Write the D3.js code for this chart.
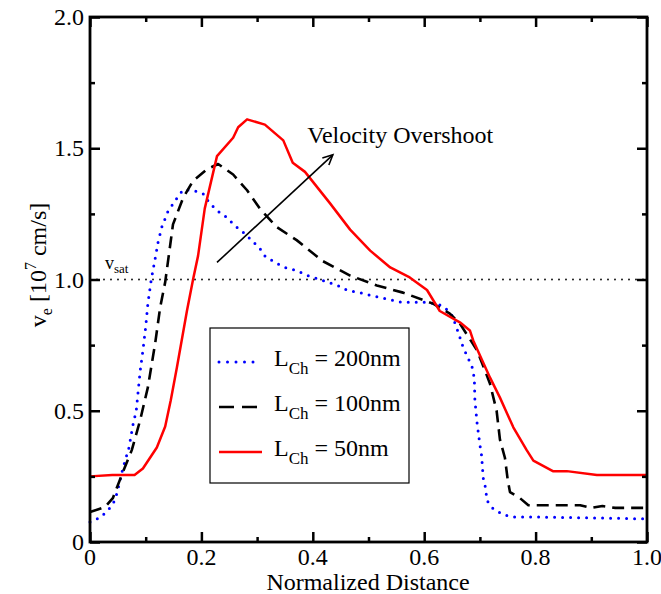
<!DOCTYPE html>
<html><head><meta charset="utf-8">
<script src="https://cdn.jsdelivr.net/npm/d3@7"></script>
<style>
html,body{margin:0;padding:0;background:#fff;}
text{font-family:"Liberation Serif","Times New Roman",serif;fill:#000;}
</style></head>
<body><svg id="c" width="661" height="594"></svg>
<script>
// ---- data ----
const series200 = [[0,0.076],[0.02,0.095],[0.036,0.13],[0.045,0.16],[0.05,0.2],[0.059,0.28],[0.07,0.36],[0.077,0.445],[0.083,0.5],[0.09,0.65],[0.095,0.73],[0.1,0.82],[0.104,0.91],[0.11,1.0],[0.117,1.08],[0.122,1.14],[0.129,1.2],[0.14,1.26],[0.156,1.31],[0.167,1.342],[0.185,1.34],[0.203,1.327],[0.215,1.29],[0.23,1.26],[0.246,1.236],[0.26,1.205],[0.275,1.18],[0.29,1.15],[0.305,1.118],[0.314,1.09],[0.332,1.065],[0.35,1.046],[0.371,1.034],[0.39,1.015],[0.407,1.004],[0.427,0.99],[0.445,0.977],[0.463,0.958],[0.485,0.95],[0.503,0.94],[0.56,0.913],[0.6,0.913],[0.623,0.908],[0.637,0.894],[0.65,0.863],[0.658,0.818],[0.664,0.78],[0.67,0.741],[0.679,0.70],[0.686,0.666],[0.69,0.624],[0.691,0.54],[0.695,0.452],[0.70,0.37],[0.703,0.33],[0.706,0.243],[0.711,0.198],[0.712,0.16],[0.723,0.129],[0.74,0.106],[0.758,0.095],[0.8,0.095],[0.9,0.092],[1.0,0.088]];
const series100 = [[0,0.114],[0.027,0.133],[0.041,0.167],[0.059,0.266],[0.075,0.35],[0.09,0.464],[0.104,0.59],[0.117,0.757],[0.126,0.894],[0.135,0.99],[0.149,1.21],[0.167,1.31],[0.185,1.376],[0.21,1.42],[0.23,1.44],[0.257,1.40],[0.282,1.34],[0.305,1.27],[0.335,1.2],[0.371,1.15],[0.418,1.07],[0.467,1.015],[0.515,0.977],[0.562,0.95],[0.616,0.908],[0.646,0.87],[0.664,0.832],[0.695,0.73],[0.718,0.604],[0.73,0.5],[0.736,0.39],[0.745,0.32],[0.75,0.236],[0.754,0.19],[0.772,0.167],[0.787,0.14],[0.88,0.14],[0.9,0.13],[0.92,0.137],[0.943,0.13],[1.0,0.13]];
const series50 = [[0,0.25],[0.04,0.255],[0.08,0.255],[0.095,0.28],[0.12,0.36],[0.135,0.44],[0.145,0.54],[0.156,0.665],[0.174,0.88],[0.185,1.0],[0.194,1.09],[0.206,1.27],[0.228,1.47],[0.257,1.54],[0.266,1.58],[0.282,1.61],[0.314,1.59],[0.347,1.53],[0.364,1.445],[0.386,1.41],[0.431,1.29],[0.467,1.19],[0.503,1.11],[0.539,1.046],[0.574,1.008],[0.605,0.96],[0.628,0.88],[0.664,0.837],[0.682,0.806],[0.688,0.768],[0.718,0.627],[0.736,0.55],[0.76,0.437],[0.784,0.35],[0.796,0.31],[0.831,0.27],[0.856,0.27],[0.91,0.255],[1.0,0.255]];
const legendLabels = ["200nm","100nm","50nm"];
const xTicks = [0,0.2,0.4,0.6,0.8,1.0];
const xTickLabels = ["0","0.2","0.4","0.6","0.8","1.0"];
const yTicks = [0,0.5,1.0,1.5,2.0];
const yTickLabels = ["0","0.5","1.0","1.5","2.0"];
const vsat = 1.0;
const arrowFrom = [0.228,1.065], arrowTo = [0.436,1.475];
const annotText = "Velocity Overshoot";

// ---- layout ----
const L=90, R=647, T=17, B=542;
const svg = d3.select("#c");
const x = d3.scaleLinear().domain([0,1]).range([L,R]);
const y = d3.scaleLinear().domain([0,2]).range([B,T]);
const line = d3.line().x(d=>x(d[0])).y(d=>y(d[1]));

const styles = [
  {data:series200, color:"#0000ff", width:3, dash:"0,8", cap:"round", ldash:"0,8.5"},
  {data:series100, color:"#000", width:2.6, dash:"12,7", cap:"butt", ldash:"15,8"},
  {data:series50, color:"#ff0000", width:2.5, dash:null, cap:"butt", ldash:null}
];

// vsat dotted line
svg.append("line").attr("x1",x(0)).attr("x2",x(1)).attr("y1",y(vsat)).attr("y2",y(vsat))
  .attr("stroke","#000").attr("stroke-width",1.8).attr("stroke-dasharray","0,7").attr("stroke-linecap","round");

// curves
styles.forEach(s=>{
  svg.append("path").attr("d",line(s.data)).attr("fill","none")
    .attr("stroke",s.color).attr("stroke-width",s.width)
    .attr("stroke-dasharray",s.dash).attr("stroke-linecap",s.cap).attr("stroke-linejoin","round");
});

// axes with inward ticks
const fs = 24;
const gx = svg.append("g").attr("transform",`translate(0,${B})`)
  .call(d3.axisBottom(x).tickValues(d3.range(0,1.0001,0.1)).tickSize(-10).tickFormat(""));
const gxt = svg.append("g").attr("transform",`translate(0,${T})`)
  .call(d3.axisTop(x).tickValues(d3.range(0,1.0001,0.1)).tickSize(-10).tickFormat(""));
const gy = svg.append("g").attr("transform",`translate(${L},0)`)
  .call(d3.axisLeft(y).tickValues(d3.range(0,2.0001,0.25)).tickSize(-10).tickFormat(""));
const gyr = svg.append("g").attr("transform",`translate(${R},0)`)
  .call(d3.axisRight(y).tickValues(d3.range(0,2.0001,0.25)).tickSize(-10).tickFormat(""));
[gx,gxt,gy,gyr].forEach(g=>{
  g.select(".domain").remove();
  g.selectAll(".tick line").attr("stroke","#000").attr("stroke-width",2.5);
});
[gx,gxt].forEach((g,i)=>g.selectAll(".tick").each(function(d){
  const major = Math.abs(Math.round(d*5)-d*5)<1e-6;
  if(!major) d3.select(this).select("line").attr("y2", i===0?-5:5);
}));
[gy,gyr].forEach((g,i)=>g.selectAll(".tick").each(function(d){
  const major = Math.abs(Math.round(d*2)-d*2)<1e-6;
  if(!major) d3.select(this).select("line").attr("x2", i===0?5:-5);
}));
// frame
svg.append("rect").attr("x",L).attr("y",T).attr("width",R-L).attr("height",B-T)
  .attr("fill","none").attr("stroke","#000").attr("stroke-width",2.8);

// tick labels
xTicks.forEach((v,i)=>{
  svg.append("text").attr("x",x(v)).attr("y",B+23).attr("text-anchor","middle")
    .attr("font-size",fs).text(xTickLabels[i]);
});
yTicks.forEach((v,i)=>{
  svg.append("text").attr("x",L-6).attr("y",y(v)+8).attr("text-anchor","end")
    .attr("font-size",fs).text(yTickLabels[i]);
});

// axis titles
svg.append("text").attr("x",368).attr("y",590).attr("text-anchor","middle")
  .attr("font-size",fs).text("Normalized Distance");
const yl = svg.append("text").attr("transform",`translate(46,265) rotate(-90)`)
  .attr("text-anchor","middle").attr("font-size",fs);
yl.append("tspan").text("v");
yl.append("tspan").attr("font-size",16).attr("dy",6).text("e");
yl.append("tspan").attr("dy",-6).text(" [10");
yl.append("tspan").attr("font-size",16).attr("dy",-10).text("7");
yl.append("tspan").attr("dy",10).text(" cm/s]");

// vsat label
const vl = svg.append("text").attr("x",105).attr("y",y(vsat)-11).attr("font-size",18);
vl.append("tspan").text("v");
vl.append("tspan").attr("font-size",13).attr("dy",4).text("sat");

// annotation arrow
const ax1=x(arrowFrom[0]), ay1=y(arrowFrom[1]), ax2=x(arrowTo[0]), ay2=y(arrowTo[1]);
svg.append("line").attr("x1",ax1).attr("y1",ay1).attr("x2",ax2).attr("y2",ay2)
  .attr("stroke","#000").attr("stroke-width",1.6);
const ang = Math.atan2(ay2-ay1, ax2-ax1), hl=11, ha=0.45;
svg.append("path").attr("d",`M${ax2-hl*Math.cos(ang-ha)},${ay2-hl*Math.sin(ang-ha)}L${ax2},${ay2}L${ax2-hl*Math.cos(ang+ha)},${ay2-hl*Math.sin(ang+ha)}`)
  .attr("fill","none").attr("stroke","#000").attr("stroke-width",1.6);
svg.append("text").attr("x",x(0.39)).attr("y",y(1.52)).attr("font-size",fs).text(annotText);

// legend
const lg = svg.append("g");
lg.append("rect").attr("x",210).attr("y",328).attr("width",199).attr("height",155)
  .attr("fill","#fff").attr("stroke","#000").attr("stroke-width",1.2);
styles.forEach((s,i)=>{
  const cy = 362 + i*45;
  lg.append("line").attr("x1",219).attr("x2",i===2?262:257).attr("y1",cy).attr("y2",cy)
    .attr("stroke",s.color).attr("stroke-width",s.width).attr("stroke-dasharray",s.ldash).attr("stroke-linecap",s.cap);
  const t = lg.append("text").attr("x",274).attr("y",cy+4).attr("font-size",fs);
  t.append("tspan").text("L");
  t.append("tspan").attr("font-size",17).attr("dy",8).text("Ch");
  t.append("tspan").attr("dy",-8).text(" = " + legendLabels[i]);
});
</script></body></html>
